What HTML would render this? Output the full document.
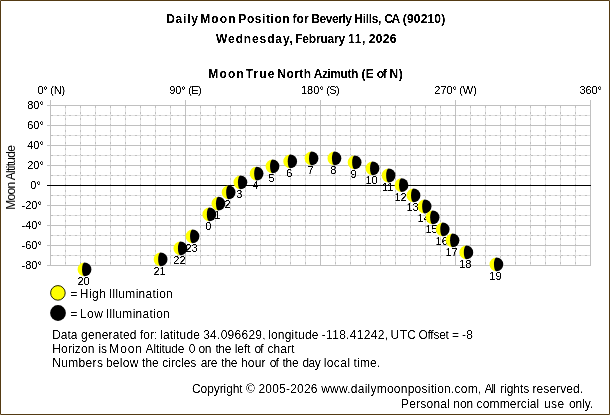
<!DOCTYPE html>
<html><head><meta charset="utf-8"><title>Daily Moon Position</title>
<style>
html,body{margin:0;padding:0;background:#fff;}
body{width:610px;height:415px;overflow:hidden;position:relative;}
svg{position:absolute;left:0;top:0;display:block;}
text{filter:url(#na);font-family:"Liberation Sans",Arial,sans-serif;font-size:11px;fill:#000;}
.b{filter:url(#nb);font-weight:bold;font-size:12px;}
.L{font-size:12px;filter:url(#nl);}
.m{text-anchor:middle;}
.e{text-anchor:end;}
</style></head><body>
<svg width="610" height="415" viewBox="0 0 610 415">
<defs><filter id="na" color-interpolation-filters="sRGB"><feComponentTransfer><feFuncA type="linear" slope="3" intercept="-0.9"/></feComponentTransfer></filter><filter id="nb" color-interpolation-filters="sRGB"><feComponentTransfer><feFuncA type="linear" slope="3" intercept="-0.9"/></feComponentTransfer></filter><filter id="nl" color-interpolation-filters="sRGB"><feComponentTransfer><feFuncA type="linear" slope="2.2" intercept="-0.6"/></feComponentTransfer></filter></defs>
<rect x="0.5" y="0.5" width="609" height="414" fill="#fff" stroke="#543a13" stroke-width="1"/>
<g fill="#85745a" shape-rendering="crispEdges"><rect x="0" y="0" width="1" height="1"/><rect x="609" y="0" width="1" height="1"/><rect x="0" y="414" width="1" height="1"/><rect x="609" y="414" width="1" height="1"/></g>
<g shape-rendering="crispEdges" fill="none">
<line x1="65.5" y1="105" x2="65.5" y2="265" stroke="#e2e2e2"/>
<line x1="65.5" y1="106" x2="65.5" y2="265" stroke="#c0c0c0" stroke-dasharray="2 4"/>
<line x1="80.5" y1="105" x2="80.5" y2="265" stroke="#e2e2e2"/>
<line x1="80.5" y1="106" x2="80.5" y2="265" stroke="#c0c0c0" stroke-dasharray="2 4"/>
<line x1="95.5" y1="105" x2="95.5" y2="265" stroke="#e2e2e2"/>
<line x1="95.5" y1="106" x2="95.5" y2="265" stroke="#c0c0c0" stroke-dasharray="2 4"/>
<line x1="110.5" y1="105" x2="110.5" y2="265" stroke="#e2e2e2"/>
<line x1="110.5" y1="106" x2="110.5" y2="265" stroke="#c0c0c0" stroke-dasharray="2 4"/>
<line x1="125.5" y1="105" x2="125.5" y2="265" stroke="#e2e2e2"/>
<line x1="125.5" y1="106" x2="125.5" y2="265" stroke="#c0c0c0" stroke-dasharray="2 4"/>
<line x1="140.5" y1="105" x2="140.5" y2="265" stroke="#e2e2e2"/>
<line x1="140.5" y1="106" x2="140.5" y2="265" stroke="#c0c0c0" stroke-dasharray="2 4"/>
<line x1="155.5" y1="105" x2="155.5" y2="265" stroke="#e2e2e2"/>
<line x1="155.5" y1="106" x2="155.5" y2="265" stroke="#c0c0c0" stroke-dasharray="2 4"/>
<line x1="170.5" y1="105" x2="170.5" y2="265" stroke="#e2e2e2"/>
<line x1="170.5" y1="106" x2="170.5" y2="265" stroke="#c0c0c0" stroke-dasharray="2 4"/>
<line x1="200.5" y1="105" x2="200.5" y2="265" stroke="#e2e2e2"/>
<line x1="200.5" y1="106" x2="200.5" y2="265" stroke="#c0c0c0" stroke-dasharray="2 4"/>
<line x1="215.5" y1="105" x2="215.5" y2="265" stroke="#e2e2e2"/>
<line x1="215.5" y1="106" x2="215.5" y2="265" stroke="#c0c0c0" stroke-dasharray="2 4"/>
<line x1="230.5" y1="105" x2="230.5" y2="265" stroke="#e2e2e2"/>
<line x1="230.5" y1="106" x2="230.5" y2="265" stroke="#c0c0c0" stroke-dasharray="2 4"/>
<line x1="245.5" y1="105" x2="245.5" y2="265" stroke="#e2e2e2"/>
<line x1="245.5" y1="106" x2="245.5" y2="265" stroke="#c0c0c0" stroke-dasharray="2 4"/>
<line x1="260.5" y1="105" x2="260.5" y2="265" stroke="#e2e2e2"/>
<line x1="260.5" y1="106" x2="260.5" y2="265" stroke="#c0c0c0" stroke-dasharray="2 4"/>
<line x1="275.5" y1="105" x2="275.5" y2="265" stroke="#e2e2e2"/>
<line x1="275.5" y1="106" x2="275.5" y2="265" stroke="#c0c0c0" stroke-dasharray="2 4"/>
<line x1="290.5" y1="105" x2="290.5" y2="265" stroke="#e2e2e2"/>
<line x1="290.5" y1="106" x2="290.5" y2="265" stroke="#c0c0c0" stroke-dasharray="2 4"/>
<line x1="305.5" y1="105" x2="305.5" y2="265" stroke="#e2e2e2"/>
<line x1="305.5" y1="106" x2="305.5" y2="265" stroke="#c0c0c0" stroke-dasharray="2 4"/>
<line x1="335.5" y1="105" x2="335.5" y2="265" stroke="#e2e2e2"/>
<line x1="335.5" y1="106" x2="335.5" y2="265" stroke="#c0c0c0" stroke-dasharray="2 4"/>
<line x1="350.5" y1="105" x2="350.5" y2="265" stroke="#e2e2e2"/>
<line x1="350.5" y1="106" x2="350.5" y2="265" stroke="#c0c0c0" stroke-dasharray="2 4"/>
<line x1="365.5" y1="105" x2="365.5" y2="265" stroke="#e2e2e2"/>
<line x1="365.5" y1="106" x2="365.5" y2="265" stroke="#c0c0c0" stroke-dasharray="2 4"/>
<line x1="380.5" y1="105" x2="380.5" y2="265" stroke="#e2e2e2"/>
<line x1="380.5" y1="106" x2="380.5" y2="265" stroke="#c0c0c0" stroke-dasharray="2 4"/>
<line x1="395.5" y1="105" x2="395.5" y2="265" stroke="#e2e2e2"/>
<line x1="395.5" y1="106" x2="395.5" y2="265" stroke="#c0c0c0" stroke-dasharray="2 4"/>
<line x1="410.5" y1="105" x2="410.5" y2="265" stroke="#e2e2e2"/>
<line x1="410.5" y1="106" x2="410.5" y2="265" stroke="#c0c0c0" stroke-dasharray="2 4"/>
<line x1="425.5" y1="105" x2="425.5" y2="265" stroke="#e2e2e2"/>
<line x1="425.5" y1="106" x2="425.5" y2="265" stroke="#c0c0c0" stroke-dasharray="2 4"/>
<line x1="440.5" y1="105" x2="440.5" y2="265" stroke="#e2e2e2"/>
<line x1="440.5" y1="106" x2="440.5" y2="265" stroke="#c0c0c0" stroke-dasharray="2 4"/>
<line x1="470.5" y1="105" x2="470.5" y2="265" stroke="#e2e2e2"/>
<line x1="470.5" y1="106" x2="470.5" y2="265" stroke="#c0c0c0" stroke-dasharray="2 4"/>
<line x1="485.5" y1="105" x2="485.5" y2="265" stroke="#e2e2e2"/>
<line x1="485.5" y1="106" x2="485.5" y2="265" stroke="#c0c0c0" stroke-dasharray="2 4"/>
<line x1="500.5" y1="105" x2="500.5" y2="265" stroke="#e2e2e2"/>
<line x1="500.5" y1="106" x2="500.5" y2="265" stroke="#c0c0c0" stroke-dasharray="2 4"/>
<line x1="515.5" y1="105" x2="515.5" y2="265" stroke="#e2e2e2"/>
<line x1="515.5" y1="106" x2="515.5" y2="265" stroke="#c0c0c0" stroke-dasharray="2 4"/>
<line x1="530.5" y1="105" x2="530.5" y2="265" stroke="#e2e2e2"/>
<line x1="530.5" y1="106" x2="530.5" y2="265" stroke="#c0c0c0" stroke-dasharray="2 4"/>
<line x1="545.5" y1="105" x2="545.5" y2="265" stroke="#e2e2e2"/>
<line x1="545.5" y1="106" x2="545.5" y2="265" stroke="#c0c0c0" stroke-dasharray="2 4"/>
<line x1="560.5" y1="105" x2="560.5" y2="265" stroke="#e2e2e2"/>
<line x1="560.5" y1="106" x2="560.5" y2="265" stroke="#c0c0c0" stroke-dasharray="2 4"/>
<line x1="575.5" y1="105" x2="575.5" y2="265" stroke="#e2e2e2"/>
<line x1="575.5" y1="106" x2="575.5" y2="265" stroke="#c0c0c0" stroke-dasharray="2 4"/>
<line x1="50" y1="115.5" x2="590" y2="115.5" stroke="#e2e2e2"/>
<line x1="51" y1="115.5" x2="590" y2="115.5" stroke="#c0c0c0" stroke-dasharray="2 4"/>
<line x1="50" y1="135.5" x2="590" y2="135.5" stroke="#e2e2e2"/>
<line x1="51" y1="135.5" x2="590" y2="135.5" stroke="#c0c0c0" stroke-dasharray="2 4"/>
<line x1="50" y1="155.5" x2="590" y2="155.5" stroke="#e2e2e2"/>
<line x1="51" y1="155.5" x2="590" y2="155.5" stroke="#c0c0c0" stroke-dasharray="2 4"/>
<line x1="50" y1="175.5" x2="590" y2="175.5" stroke="#e2e2e2"/>
<line x1="51" y1="175.5" x2="590" y2="175.5" stroke="#c0c0c0" stroke-dasharray="2 4"/>
<line x1="50" y1="195.5" x2="590" y2="195.5" stroke="#e2e2e2"/>
<line x1="51" y1="195.5" x2="590" y2="195.5" stroke="#c0c0c0" stroke-dasharray="2 4"/>
<line x1="50" y1="215.5" x2="590" y2="215.5" stroke="#e2e2e2"/>
<line x1="51" y1="215.5" x2="590" y2="215.5" stroke="#c0c0c0" stroke-dasharray="2 4"/>
<line x1="50" y1="235.5" x2="590" y2="235.5" stroke="#e2e2e2"/>
<line x1="51" y1="235.5" x2="590" y2="235.5" stroke="#c0c0c0" stroke-dasharray="2 4"/>
<line x1="50" y1="255.5" x2="590" y2="255.5" stroke="#e2e2e2"/>
<line x1="51" y1="255.5" x2="590" y2="255.5" stroke="#c0c0c0" stroke-dasharray="2 4"/>
<line x1="47" y1="105.5" x2="591" y2="105.5" stroke="#c0c0c0"/>
<line x1="47" y1="125.5" x2="591" y2="125.5" stroke="#c0c0c0"/>
<line x1="47" y1="145.5" x2="591" y2="145.5" stroke="#c0c0c0"/>
<line x1="47" y1="165.5" x2="591" y2="165.5" stroke="#c0c0c0"/>
<line x1="47" y1="205.5" x2="591" y2="205.5" stroke="#c0c0c0"/>
<line x1="47" y1="225.5" x2="591" y2="225.5" stroke="#c0c0c0"/>
<line x1="47" y1="245.5" x2="591" y2="245.5" stroke="#c0c0c0"/>
<line x1="47" y1="265.5" x2="591" y2="265.5" stroke="#c0c0c0"/>
<line x1="50.5" y1="100" x2="50.5" y2="266" stroke="#c0c0c0"/>
<line x1="185.5" y1="100" x2="185.5" y2="266" stroke="#c0c0c0"/>
<line x1="320.5" y1="100" x2="320.5" y2="266" stroke="#c0c0c0"/>
<line x1="455.5" y1="100" x2="455.5" y2="266" stroke="#c0c0c0"/>
<line x1="590.5" y1="100" x2="590.5" y2="266" stroke="#c0c0c0"/>
<line x1="47" y1="185.5" x2="591" y2="185.5" stroke="#000"/>
</g>
<text class="b" y="23" id="t1"><tspan x="166.17" letter-spacing="0.79">Daily</tspan> <tspan x="200.27" letter-spacing="1.10">Moon</tspan> <tspan x="238.32" letter-spacing="0.57">Position</tspan> <tspan x="292.60" letter-spacing="-0.01">for</tspan> <tspan x="311.27" letter-spacing="-0.45">Beverly</tspan> <tspan x="354.37" letter-spacing="-0.35">Hills,</tspan> <tspan x="384.19" letter-spacing="-1.39">CA</tspan> <tspan x="402.79" letter-spacing="0.17">(90210)</tspan></text>
<text class="b" y="43" id="t2"><tspan x="216.10" letter-spacing="0.88">Wednesday,</tspan> <tspan x="295.17" letter-spacing="-0.19">February</tspan> <tspan x="348.03" letter-spacing="0.61">11,</tspan> <tspan x="368.73" letter-spacing="0.31">2026</tspan></text>
<text class="b" y="78" id="t3"><tspan x="208.37" letter-spacing="1.13">Moon</tspan> <tspan x="245.70" letter-spacing="1.10">True</tspan> <tspan x="277.37" letter-spacing="0.42">North</tspan> <tspan x="313.68" letter-spacing="-0.44">Azimuth</tspan> <tspan x="361.39" letter-spacing="0.43">(E</tspan> <tspan x="376.63" letter-spacing="-1.17">of</tspan> <tspan x="389.47" letter-spacing="0.53">N)</tspan></text>
<text class="r" y="94" id="a0"><tspan x="37.56" letter-spacing="-0.42">0°</tspan> <tspan x="50.15" letter-spacing="-0.16">(N)</tspan></text>
<text class="r" y="94" id="a1"><tspan x="169.36" letter-spacing="-0.21">90°</tspan> <tspan x="188.15" letter-spacing="-0.53">(E)</tspan></text>
<text class="r" y="94" id="a2"><tspan x="300.96" letter-spacing="0.03">180°</tspan> <tspan x="326.25" letter-spacing="-0.63">(S)</tspan></text>
<text class="r" y="94" id="a3"><tspan x="434.36" letter-spacing="-0.07">270°</tspan> <tspan x="459.25" letter-spacing="-0.08">(W)</tspan></text>
<text class="r" y="94" id="a4"><tspan x="579.46" letter-spacing="-0.07">360°</tspan></text>
<text class="e" x="43.9" y="109">80°</text>
<text class="e" x="43.9" y="129">60°</text>
<text class="e" x="43.9" y="149">40°</text>
<text class="e" x="43.9" y="169">20°</text>
<text class="e" x="40.9" y="189">0°</text>
<text class="e" x="41.9" y="209">-20°</text>
<text class="e" x="41.9" y="229">-40°</text>
<text class="e" x="41.9" y="249">-60°</text>
<text class="e" x="41.9" y="269">-80°</text>
<text class="m" transform="translate(15 177.7) rotate(-90)" id="yl" style="font-size:12px;filter:none" letter-spacing="-0.66">Moon Altitude</text>
<path d="M84.5 262.50A6.9 6.9 0 0 0 84.5 276.30A1.85 6.9 0 0 1 84.5 262.50Z" fill="#ffff00"/><path d="M84.5 262.50A6.9 6.9 0 0 1 84.5 276.30A2.45 6.9 0 0 1 84.5 262.50Z" fill="#000"/><text class="m" x="83.5" y="285.2">20</text>
<path d="M160.6 252.50A6.9 6.9 0 0 0 160.6 266.30A1.85 6.9 0 0 1 160.6 252.50Z" fill="#ffff00"/><path d="M160.6 252.50A6.9 6.9 0 0 1 160.6 266.30A2.45 6.9 0 0 1 160.6 252.50Z" fill="#000"/><text class="m" x="159.6" y="275.2">21</text>
<path d="M180.4 241.50A6.9 6.9 0 0 0 180.4 255.30A1.85 6.9 0 0 1 180.4 241.50Z" fill="#ffff00"/><path d="M180.4 241.50A6.9 6.9 0 0 1 180.4 255.30A2.45 6.9 0 0 1 180.4 241.50Z" fill="#000"/><text class="m" x="179.4" y="264.2">22</text>
<path d="M192.5 229.40A6.9 6.9 0 0 0 192.5 243.20A1.85 6.9 0 0 1 192.5 229.40Z" fill="#ffff00"/><path d="M192.5 229.40A6.9 6.9 0 0 1 192.5 243.20A2.45 6.9 0 0 1 192.5 229.40Z" fill="#000"/><text class="m" x="191.5" y="252.1">23</text>
<path d="M209.3 207.50A6.9 6.9 0 0 0 209.3 221.30A1.85 6.9 0 0 1 209.3 207.50Z" fill="#ffff00"/><path d="M209.3 207.50A6.9 6.9 0 0 1 209.3 221.30A2.45 6.9 0 0 1 209.3 207.50Z" fill="#000"/><text class="m" x="208.3" y="230.2">0</text>
<path d="M218.4 196.70A6.9 6.9 0 0 0 218.4 210.50A1.85 6.9 0 0 1 218.4 196.70Z" fill="#ffff00"/><path d="M218.4 196.70A6.9 6.9 0 0 1 218.4 210.50A2.45 6.9 0 0 1 218.4 196.70Z" fill="#000"/><text class="m" x="217.4" y="219.4">1</text>
<path d="M228.6 185.50A6.9 6.9 0 0 0 228.6 199.30A1.85 6.9 0 0 1 228.6 185.50Z" fill="#ffff00"/><path d="M228.6 185.50A6.9 6.9 0 0 1 228.6 199.30A2.45 6.9 0 0 1 228.6 185.50Z" fill="#000"/><text class="m" x="227.6" y="208.2">2</text>
<path d="M240.4 175.40A6.9 6.9 0 0 0 240.4 189.20A1.85 6.9 0 0 1 240.4 175.40Z" fill="#ffff00"/><path d="M240.4 175.40A6.9 6.9 0 0 1 240.4 189.20A2.45 6.9 0 0 1 240.4 175.40Z" fill="#000"/><text class="m" x="239.4" y="198.1">3</text>
<path d="M256.6 166.70A6.9 6.9 0 0 0 256.6 180.50A1.85 6.9 0 0 1 256.6 166.70Z" fill="#ffff00"/><path d="M256.6 166.70A6.9 6.9 0 0 1 256.6 180.50A2.45 6.9 0 0 1 256.6 166.70Z" fill="#000"/><text class="m" x="255.6" y="189.4">4</text>
<path d="M272.5 159.40A6.9 6.9 0 0 0 272.5 173.20A1.85 6.9 0 0 1 272.5 159.40Z" fill="#ffff00"/><path d="M272.5 159.40A6.9 6.9 0 0 1 272.5 173.20A2.45 6.9 0 0 1 272.5 159.40Z" fill="#000"/><text class="m" x="271.5" y="182.1">5</text>
<path d="M290.2 154.50A6.9 6.9 0 0 0 290.2 168.30A1.85 6.9 0 0 1 290.2 154.50Z" fill="#ffff00"/><path d="M290.2 154.50A6.9 6.9 0 0 1 290.2 168.30A2.45 6.9 0 0 1 290.2 154.50Z" fill="#000"/><text class="m" x="289.2" y="177.2">6</text>
<path d="M311.5 151.50A6.9 6.9 0 0 0 311.5 165.30A1.85 6.9 0 0 1 311.5 151.50Z" fill="#ffff00"/><path d="M311.5 151.50A6.9 6.9 0 0 1 311.5 165.30A2.45 6.9 0 0 1 311.5 151.50Z" fill="#000"/><text class="m" x="310.5" y="174.2">7</text>
<path d="M334.4 151.50A6.9 6.9 0 0 0 334.4 165.30A1.85 6.9 0 0 1 334.4 151.50Z" fill="#ffff00"/><path d="M334.4 151.50A6.9 6.9 0 0 1 334.4 165.30A2.45 6.9 0 0 1 334.4 151.50Z" fill="#000"/><text class="m" x="333.4" y="174.2">8</text>
<path d="M354.6 155.50A6.9 6.9 0 0 0 354.6 169.30A1.85 6.9 0 0 1 354.6 155.50Z" fill="#ffff00"/><path d="M354.6 155.50A6.9 6.9 0 0 1 354.6 169.30A2.45 6.9 0 0 1 354.6 155.50Z" fill="#000"/><text class="m" x="353.6" y="178.2">9</text>
<path d="M372.5 161.50A6.9 6.9 0 0 0 372.5 175.30A1.85 6.9 0 0 1 372.5 161.50Z" fill="#ffff00"/><path d="M372.5 161.50A6.9 6.9 0 0 1 372.5 175.30A2.45 6.9 0 0 1 372.5 161.50Z" fill="#000"/><text class="m" x="371.5" y="184.2">10</text>
<path d="M388.6 168.60A6.9 6.9 0 0 0 388.6 182.40A1.85 6.9 0 0 1 388.6 168.60Z" fill="#ffff00"/><path d="M388.6 168.60A6.9 6.9 0 0 1 388.6 182.40A2.45 6.9 0 0 1 388.6 168.60Z" fill="#000"/><text class="m" x="387.6" y="191.3">11</text>
<path d="M401.5 178.30A6.9 6.9 0 0 0 401.5 192.10A1.85 6.9 0 0 1 401.5 178.30Z" fill="#ffff00"/><path d="M401.5 178.30A6.9 6.9 0 0 1 401.5 192.10A2.45 6.9 0 0 1 401.5 178.30Z" fill="#000"/><text class="m" x="400.5" y="201.0">12</text>
<path d="M413.5 188.50A6.9 6.9 0 0 0 413.5 202.30A1.85 6.9 0 0 1 413.5 188.50Z" fill="#ffff00"/><path d="M413.5 188.50A6.9 6.9 0 0 1 413.5 202.30A2.45 6.9 0 0 1 413.5 188.50Z" fill="#000"/><text class="m" x="412.5" y="211.2">13</text>
<path d="M424.6 199.60A6.9 6.9 0 0 0 424.6 213.40A1.85 6.9 0 0 1 424.6 199.60Z" fill="#ffff00"/><path d="M424.6 199.60A6.9 6.9 0 0 1 424.6 213.40A2.45 6.9 0 0 1 424.6 199.60Z" fill="#000"/><text class="m" x="423.6" y="222.3">14</text>
<path d="M432.6 210.40A6.9 6.9 0 0 0 432.6 224.20A1.85 6.9 0 0 1 432.6 210.40Z" fill="#ffff00"/><path d="M432.6 210.40A6.9 6.9 0 0 1 432.6 224.20A2.45 6.9 0 0 1 432.6 210.40Z" fill="#000"/><text class="m" x="431.6" y="233.1">15</text>
<path d="M442.7 222.40A6.9 6.9 0 0 0 442.7 236.20A1.85 6.9 0 0 1 442.7 222.40Z" fill="#ffff00"/><path d="M442.7 222.40A6.9 6.9 0 0 1 442.7 236.20A2.45 6.9 0 0 1 442.7 222.40Z" fill="#000"/><text class="m" x="441.7" y="245.1">16</text>
<path d="M452.5 233.40A6.9 6.9 0 0 0 452.5 247.20A1.85 6.9 0 0 1 452.5 233.40Z" fill="#ffff00"/><path d="M452.5 233.40A6.9 6.9 0 0 1 452.5 247.20A2.45 6.9 0 0 1 452.5 233.40Z" fill="#000"/><text class="m" x="451.5" y="256.1">17</text>
<path d="M466.3 245.50A6.9 6.9 0 0 0 466.3 259.30A1.85 6.9 0 0 1 466.3 245.50Z" fill="#ffff00"/><path d="M466.3 245.50A6.9 6.9 0 0 1 466.3 259.30A2.45 6.9 0 0 1 466.3 245.50Z" fill="#000"/><text class="m" x="465.3" y="268.2">18</text>
<path d="M496.4 257.40A6.9 6.9 0 0 0 496.4 271.20A1.85 6.9 0 0 1 496.4 257.40Z" fill="#ffff00"/><path d="M496.4 257.40A6.9 6.9 0 0 1 496.4 271.20A2.45 6.9 0 0 1 496.4 257.40Z" fill="#000"/><text class="m" x="495.4" y="280.1">19</text>
<circle cx="57.9" cy="292.9" r="7.3" fill="#ffff00" stroke="#1f1f00" stroke-width="1"/>
<circle cx="58" cy="313" r="7.9" fill="#000"/>
<text class="L" y="298" id="l1"><tspan x="70.22" letter-spacing="0.00">=</tspan> <tspan x="79.70" letter-spacing="0.53">High</tspan> <tspan x="108.80" letter-spacing="0.30">Illumination</tspan></text>
<text class="L" y="318" id="l2"><tspan x="70.22" letter-spacing="0.00">=</tspan> <tspan x="79.70" letter-spacing="0.55">Low</tspan> <tspan x="105.80" letter-spacing="0.30">Illumination</tspan></text>
<text class="L" y="339" id="d1"><tspan x="52.30" letter-spacing="-0.11">Data</tspan> <tspan x="81.11" letter-spacing="0.17">generated</tspan> <tspan x="140.09" letter-spacing="-0.10">for:</tspan> <tspan x="160.14" letter-spacing="0.16">latitude</tspan> <tspan x="203.20" letter-spacing="0.26">34.096629,</tspan> <tspan x="268.04" letter-spacing="0.22">longitude</tspan> <tspan x="321.75" letter-spacing="0.31">-118.41242,</tspan> <tspan x="390.60" letter-spacing="0.39">UTC</tspan> <tspan x="418.42" letter-spacing="-0.26">Offset</tspan> <tspan x="452.02" letter-spacing="0.00">=</tspan> <tspan x="461.95" letter-spacing="0.25">-8</tspan></text>
<text class="L" y="353" id="d2"><tspan x="52.30" letter-spacing="0.13">Horizon</tspan> <tspan x="98.47" letter-spacing="-0.07">is</tspan> <tspan x="109.30" letter-spacing="0.90">Moon</tspan> <tspan x="145.59" letter-spacing="-0.16">Altitude</tspan> <tspan x="188.84" letter-spacing="0.00">0</tspan> <tspan x="198.40" letter-spacing="-0.22">on</tspan> <tspan x="215.40" letter-spacing="-0.35">the</tspan> <tspan x="234.74" letter-spacing="-0.05">left</tspan> <tspan x="254.50" letter-spacing="-0.80">of</tspan> <tspan x="267.48" letter-spacing="0.10">chart</tspan></text>
<text class="L" y="367" id="d3"><tspan x="52.30" letter-spacing="0.32">Numbers</tspan> <tspan x="105.95" letter-spacing="0.26">below</tspan> <tspan x="142.10" letter-spacing="-0.05">the</tspan> <tspan x="162.18" letter-spacing="0.03">circles</tspan> <tspan x="200.66" letter-spacing="-0.28">are</tspan> <tspan x="221.30" letter-spacing="-0.25">the</tspan> <tspan x="241.02" letter-spacing="0.15">hour</tspan> <tspan x="269.80" letter-spacing="-1.00">of</tspan> <tspan x="282.40" letter-spacing="-0.20">the</tspan> <tspan x="302.51" letter-spacing="-0.56">day</tspan> <tspan x="323.64" letter-spacing="0.44">local</tspan> <tspan x="353.50" letter-spacing="0.20">time.</tspan></text>
<text class="L" y="393" id="c1"><tspan x="192.06" letter-spacing="-0.09">Copyright</tspan> <tspan x="245.91" letter-spacing="0.00">©</tspan> <tspan x="258.48" letter-spacing="0.20">2005-2026</tspan> <tspan x="321.20" letter-spacing="0.24">www.dailymoonposition.com,</tspan> <tspan x="484.39" letter-spacing="-0.93">All</tspan> <tspan x="500.04" letter-spacing="-0.03">rights</tspan> <tspan x="532.54" letter-spacing="0.06">reserved.</tspan></text>
<text class="L" y="408" id="c2"><tspan x="401.10" letter-spacing="0.19">Personal</tspan> <tspan x="453.33" letter-spacing="-0.12">non</tspan> <tspan x="476.58" letter-spacing="0.15">commercial</tspan> <tspan x="543.89" letter-spacing="0.51">use</tspan> <tspan x="569.00" letter-spacing="-0.10">only.</tspan></text>
</svg>
</body></html>
